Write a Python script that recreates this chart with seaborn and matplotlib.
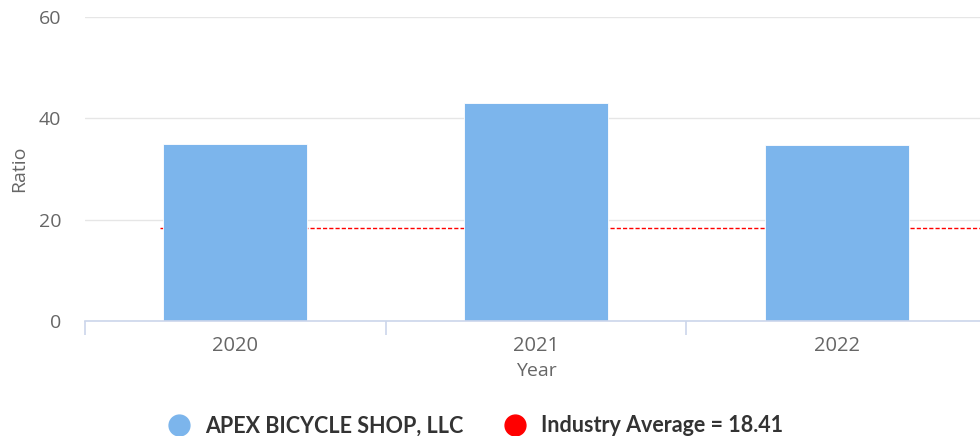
import pandas as pd
import matplotlib.pyplot as plt
import seaborn as sns
from matplotlib.lines import Line2D

# Chart data
years = ['2020', '2021', '2022']
ratios = [35.0, 43.0, 34.7]
industry_avg = 18.41
company = 'APEX BICYCLE SHOP, LLC'

df = pd.DataFrame({'Year': years, 'Ratio': ratios})

sns.set_style('white')
plt.rcParams['font.family'] = ['Open Sans', 'DejaVu Sans']

fig = plt.figure(figsize=(9.8, 4.36), dpi=100)
ax = fig.add_axes([85 / 980, 115 / 436, 902 / 980, 304 / 436])

# industry average dashed line behind the bars
ax.hlines(industry_avg, -0.25, 2.6, colors='#ff0000', linestyles=(0, (3, 1.5)),
          linewidth=1, zorder=1)

sns.barplot(data=df, x='Year', y='Ratio', color='#7cb5ec', saturation=1,
            width=0.48, ax=ax, zorder=2, edgecolor='white', linewidth=0.6)

ax.set_xlim(-0.5, 2.5)
ax.set_ylim(0, 60)
ax.set_yticks([0, 20, 40, 60])
ax.grid(axis='y', color='#e6e6e6', linewidth=1)
ax.set_axisbelow(True)

for s in ['top', 'right', 'left']:
    ax.spines[s].set_visible(False)
ax.spines['bottom'].set_color('#ccd6eb')
ax.spines['bottom'].set_linewidth(1.2)

# tick marks at category boundaries
ax.set_xticks([-0.5, 0.5, 1.5], minor=True)
ax.tick_params(axis='x', which='minor', bottom=True, length=10, width=1.2,
               color='#ccd6eb', direction='out')
ax.tick_params(axis='x', which='major', bottom=True, length=0, pad=11,
               labelsize=14.5, labelcolor='#666666')
ax.tick_params(axis='y', length=0, pad=17, labelsize=14, labelcolor='#666666')

ax.set_xlabel('Year', fontsize=14, color='#666666', labelpad=4)
ax.set_ylabel('Ratio', fontsize=14, color='#666666', labelpad=8)

handles = [
    Line2D([], [], marker='o', linestyle='none', markersize=15, color='#7cb5ec'),
    Line2D([], [], marker='o', linestyle='none', markersize=15, color='#ff0000'),
]
labels = [company, f'Industry Average = {industry_avg}']
fig.legend(handles, labels, loc='lower center', bbox_to_anchor=(0.48, -0.045), ncol=2,
           frameon=False, columnspacing=1.4, handletextpad=0.2,
           prop={'family': 'Lato', 'weight': 'bold', 'size': 15.5},
           labelcolor='#333333')

fig.savefig('out.png', dpi=100)
